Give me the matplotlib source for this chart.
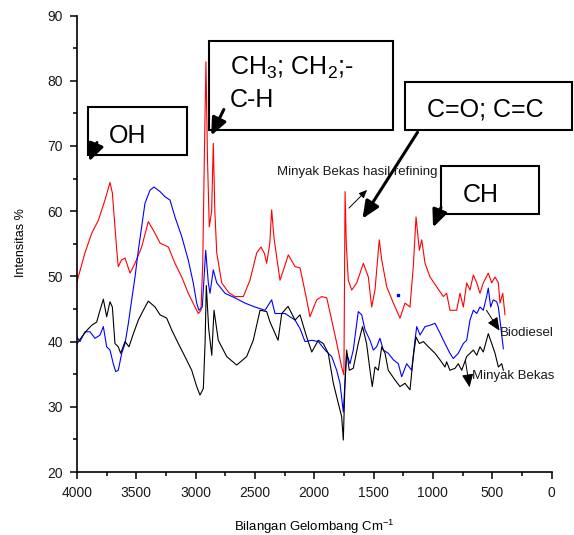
import numpy as np
import matplotlib
matplotlib.use("Agg")
import matplotlib.pyplot as plt
from matplotlib.patches import Rectangle, FancyArrowPatch
from matplotlib.ticker import MultipleLocator

plt.rcParams['font.family'] = ['Liberation Sans', 'DejaVu Sans']
plt.rcParams['mathtext.default'] = 'regular'

# Minyak Bekas hasil refining (red)
wn_red = [4000, 3933, 3876, 3820, 3764, 3722, 3702, 3665, 3652, 3625, 3595, 3553, 3511, 3455, 3399,
          3342, 3300, 3230, 3174, 3117, 3062, 3005, 2977, 2955, 2940, 2925, 2913, 2900, 2885, 2865,
          2851, 2838, 2822, 2780, 2720, 2668, 2598, 2542, 2485, 2449, 2420, 2401, 2375, 2359, 2340,
          2317, 2289, 2250, 2219, 2162, 2120, 2070, 2036, 2000, 1979, 1937, 1895, 1853, 1811, 1769,
          1750, 1740, 1730, 1713, 1684, 1642, 1586, 1544, 1516, 1488, 1452, 1431, 1389, 1333, 1277,
          1235, 1193, 1165, 1142, 1114, 1094, 1066, 1024, 968, 912, 884, 856, 800, 771, 743,
          715, 687, 659, 630, 603, 575, 533, 504, 476, 448, 434, 411, 392]
val_red = [49.2, 53.6, 56.6, 58.6, 61.7, 64.4, 62.8, 54.0, 51.5, 52.5, 52.8, 50.5, 52.0, 54.5, 58.4,
           56.6, 55.1, 54.5, 52.0, 49.9, 47.4, 45.3, 44.3, 44.8, 52.0, 70.0, 82.9, 68.0, 57.6, 60.0,
           70.4, 60.0, 53.6, 49.0, 47.5, 46.9, 46.9, 49.4, 53.6, 54.5, 53.5, 52.0, 55.0, 60.2, 56.0,
           53.0, 49.4, 51.5, 53.3, 51.5, 51.3, 47.0, 43.8, 45.5, 46.4, 46.9, 46.7, 43.3, 39.8, 36.1,
           34.9, 63.0, 55.0, 49.4, 47.9, 49.0, 52.0, 49.9, 45.3, 47.9, 55.6, 52.5, 48.4, 45.9, 43.6,
           45.9, 45.3, 51.5, 59.1, 54.0, 55.6, 52.0, 49.9, 48.4, 46.9, 47.4, 44.8, 44.8, 47.4, 45.3,
           49.0, 47.9, 50.2, 49.0, 47.4, 49.0, 50.5, 49.0, 49.9, 49.0, 45.9, 47.4, 44.1]

# Biodiesel (blue)
wn_blue = [4000, 3975, 3933, 3890, 3848, 3806, 3778, 3750, 3722, 3694, 3674, 3652, 3623, 3595, 3567,
           3539, 3511, 3483, 3455, 3427, 3385, 3351, 3300, 3258, 3216, 3174, 3117, 3062, 3020, 2991,
           2972, 2944, 2915, 2893, 2879, 2851, 2822, 2752, 2668, 2584, 2500, 2415, 2359, 2331, 2246,
           2162, 2120, 2078, 2021, 1966, 1909, 1853, 1811, 1783, 1755, 1727, 1699, 1671, 1629, 1600,
           1572, 1530, 1502, 1474, 1446, 1418, 1376, 1333, 1291, 1263, 1221, 1179, 1151, 1136, 1108,
           1066, 1024, 982, 940, 898, 856, 828, 786, 743, 715, 687, 659, 630, 603, 575,
           547, 533, 513, 491, 462, 448, 428, 406]
val_blue = [40.7, 40.0, 41.5, 41.5, 40.5, 41.0, 42.3, 39.2, 38.7, 36.6, 35.4, 35.6, 38.2, 39.7, 42.8,
            46.4, 49.9, 54.0, 57.6, 61.2, 63.2, 63.7, 63.0, 62.2, 61.7, 59.1, 56.1, 52.5, 49.0, 45.9,
            44.8, 45.3, 54.0, 49.0, 47.4, 51.0, 49.0, 47.4, 46.7, 45.9, 45.3, 44.8, 46.4, 44.3, 44.3,
            43.3, 42.0, 40.0, 40.2, 40.0, 38.7, 37.7, 35.6, 33.6, 29.2, 38.2, 36.6, 38.7, 44.6, 44.1,
            41.8, 40.2, 38.7, 39.2, 40.5, 38.7, 38.2, 37.2, 36.6, 34.6, 36.6, 35.6, 40.2, 42.3, 41.0,
            42.3, 42.5, 42.8, 41.3, 39.7, 38.2, 37.4, 38.2, 39.7, 40.2, 43.3, 44.8, 44.3, 45.3, 44.8,
            46.9, 48.2, 45.3, 46.4, 46.1, 45.3, 42.3, 38.9]

# Minyak Bekas (black)
wn_black = [4000, 3960, 3918, 3876, 3834, 3806, 3778, 3750, 3722, 3702, 3680, 3652, 3632, 3595, 3562,
            3525, 3483, 3441, 3399, 3342, 3300, 3244, 3202, 3146, 3090, 3033, 2991, 2963, 2935, 2920,
            2910, 2890, 2864, 2845, 2809, 2738, 2654, 2570, 2514, 2457, 2401, 2373, 2305, 2274, 2221,
            2162, 2120, 2064, 2021, 1966, 1924, 1882, 1839, 1797, 1769, 1755, 1741, 1727, 1705, 1671,
            1629, 1593, 1559, 1530, 1511, 1488, 1460, 1431, 1403, 1376, 1319, 1277, 1235, 1193, 1165,
            1142, 1114, 1080, 1038, 982, 940, 898, 884, 856, 813, 786, 757, 715, 687, 659,
            630, 603, 575, 533, 504, 476, 448, 420, 406]
val_black = [39.7, 40.7, 41.7, 42.5, 43.0, 44.8, 46.5, 43.8, 46.1, 45.3, 39.7, 39.2, 38.2, 40.0, 39.2,
             41.2, 43.3, 44.8, 46.2, 45.3, 44.1, 43.6, 41.8, 39.7, 37.7, 35.6, 33.1, 31.8, 32.8, 40.0,
             48.6, 42.0, 37.9, 44.8, 40.2, 37.7, 36.4, 37.7, 40.2, 44.8, 44.6, 43.0, 40.2, 44.3, 45.4,
             43.3, 44.1, 40.7, 38.4, 40.2, 39.7, 38.2, 33.6, 30.5, 28.5, 24.9, 33.6, 38.7, 35.6, 35.9,
             39.7, 42.3, 39.7, 35.6, 33.1, 36.1, 35.6, 39.2, 38.2, 35.6, 34.1, 33.1, 33.6, 32.6, 37.7,
             40.7, 39.7, 40.0, 39.2, 38.2, 37.2, 36.1, 36.9, 35.6, 35.9, 36.6, 35.6, 37.7, 38.2, 38.7,
             37.9, 39.2, 38.4, 41.2, 39.7, 38.2, 36.1, 36.6, 35.6]

# stray blue point
dot_wn = [1290]
dot_val = [47.1]

W, H = 574, 535


def fp(x, y):
    # image pixel -> figure fraction
    return (x / W, 1 - y / H)


fig = plt.figure(figsize=(W / 100, H / 100), dpi=100)
ax = fig.add_axes([77 / W, 1 - 472 / H, 474.5 / W, 456.5 / H])

ax.plot(wn_red, val_red, color='#ff0000', lw=0.8)
ax.plot(wn_blue, val_blue, color='#0000ff', lw=0.8)
ax.plot(wn_black, val_black, color='#000000', lw=0.8)
ax.plot(dot_wn, dot_val, 's', color='#0000ff', ms=1.5)

ax.set_xlim(4000, 0)
ax.set_ylim(20, 90)
ax.xaxis.set_major_locator(MultipleLocator(500))
ax.xaxis.set_minor_locator(MultipleLocator(250))
ax.yaxis.set_major_locator(MultipleLocator(10))
ax.yaxis.set_minor_locator(MultipleLocator(5))
ax.spines['top'].set_visible(False)
ax.spines['right'].set_visible(False)
for s in ['left', 'bottom']:
    ax.spines[s].set_linewidth(1.2)
ax.tick_params(which='major', direction='out', length=5, width=1.1, labelsize=10,
               labelcolor='#1a1a1a', pad=5)
ax.tick_params(which='minor', direction='out', length=3, width=1.1)

fig.text(*fp(21, 243), 'Intensitas %', rotation=90, ha='center', va='center', fontsize=9)
fig.text(*fp(314, 531), 'Bilangan Gelombang Cm$^{-1}$', ha='center', va='baseline', fontsize=9.5)

# boxes
boxes = [(88, 107, 99, 48), (209, 41, 184, 89), (405, 82, 167, 48), (441, 166, 98, 48)]
for bx, by, bw, bh in boxes:
    x0, y0 = fp(bx, by + bh)
    fig.add_artist(Rectangle((x0, y0), bw / W, bh / H, transform=fig.transFigure,
                             facecolor='white', edgecolor='black', lw=1.5, zorder=5))

big = dict(fontsize=18, va='baseline', ha='left', zorder=6)
fig.text(*fp(109, 143), 'OH', **big)
fig.text(*fp(230, 75), 'CH$_3$; CH$_2$;-', **big)
fig.text(*fp(230, 107), 'C-H', **big)
fig.text(*fp(427, 117), 'C=O; C=C', **big)
fig.text(*fp(463, 202), 'CH', **big)

small = dict(fontsize=9.5, va='baseline', ha='left', zorder=6, color='#1a1a1a')
fig.text(*fp(277, 175), 'Minyak Bekas hasil refining', **small)
fig.text(*fp(500, 336), 'Biodiesel', **small)
fig.text(*fp(472, 379), 'Minyak Bekas', **small)

# arrows
thick = [((98, 140), (88, 164)), ((225, 107), (210, 138)), ((419, 130), (361, 221)),
         ((442, 205), (432, 230))]
for a, b in thick:
    fig.add_artist(FancyArrowPatch(fp(*a), fp(*b), transform=fig.transFigure,
                                   arrowstyle='-|>,head_length=0.8,head_width=0.35',
                                   mutation_scale=13, lw=2.2, color='black', zorder=7))
thin = [((347, 210), (369, 188), 6), ((485, 308), (501, 333), 10), ((465, 358), (470, 390), 10)]
for a, b, m in thin:
    fig.add_artist(FancyArrowPatch(fp(*a), fp(*b), transform=fig.transFigure,
                                   arrowstyle='-|>,head_length=0.8,head_width=0.35',
                                   mutation_scale=m, lw=0.7, color='black', zorder=7))

fig.savefig('out.png', dpi=100)
